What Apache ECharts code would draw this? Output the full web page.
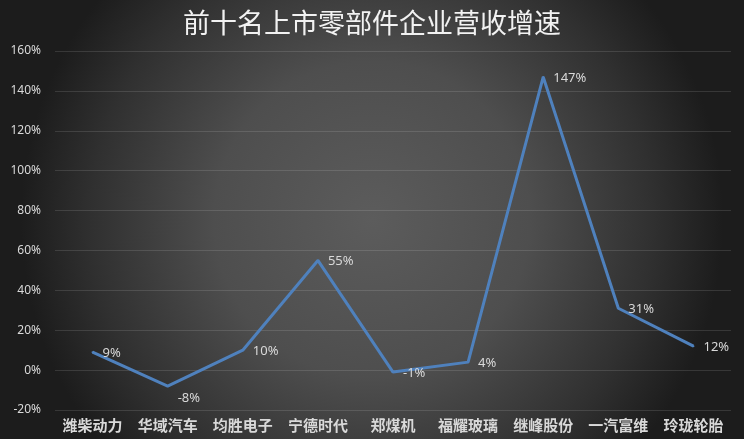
<!DOCTYPE html>
<html>
<head>
<meta charset="utf-8">
<script src="https://cdn.jsdelivr.net/npm/echarts@6/dist/echarts.min.js"></script>
<style>html,body{margin:0;padding:0;background:#222;}#c{width:744px;height:439px;}</style>
</head>
<body>
<div id="c"></div>
<script>
const titleText = '前十名上市零部件企业营收增速';
const categories = ['潍柴动力','华域汽车','均胜电子','宁德时代','郑煤机','福耀玻璃','继峰股份','一汽富维','玲珑轮胎'];
const growth = [9, -8, 10, 55, -1, 4, 147, 31, 12];
const yMin = -20, yMax = 160, yStep = 20;

const chart = echarts.init(document.getElementById('c'));
const seriesData = growth.map((v, i) => i === 1 ? {value: v, label: {offset: [0, 12]}} : v);
chart.setOption({
  backgroundColor: {
    type: 'radial', x: 0.5, y: 0.5, r: 0.8,
    colorStops: [
      {offset: 0, color: '#5c5c5c'},
      {offset: 0.45, color: '#4e4e4e'},
      {offset: 0.8, color: '#303030'},
      {offset: 1, color: '#1c1c1c'}
    ]
  },
  title: {
    text: titleText, left: 'center', top: 4,
    textStyle: {color: '#f2f2f2', fontSize: 27, fontWeight: 'normal', fontFamily: 'Noto Sans CJK SC'}
  },
  grid: {left: 55, right: 13, top: 51, bottom: 29},
  xAxis: {
    type: 'category', data: categories, boundaryGap: true,
    axisLine: {show: false}, axisTick: {show: false},
    axisLabel: {interval: 0, color: '#d9d9d9', fontSize: 15, fontWeight: 'bold', fontFamily: 'Noto Sans CJK SC', margin: 8}
  },
  yAxis: {
    type: 'value', min: yMin, max: yMax, interval: yStep,
    axisLine: {show: false}, axisTick: {show: false},
    axisLabel: {color: '#d9d9d9', fontSize: 12, fontFamily: 'Noto Sans', formatter: v => v + '%', margin: 14},
    splitLine: {lineStyle: {color: 'rgba(255,255,255,0.12)', width: 1}}
  },
  series: [{
    type: 'line', data: seriesData, symbol: 'circle', symbolSize: 2, showSymbol: true, showAllSymbol: true,
    itemStyle: {color: '#4f81bd'},
    lineStyle: {color: '#4f81bd', width: 3},
    label: {show: true, position: 'right', distance: 9, color: '#d9d9d9', fontSize: 13, fontFamily: 'Noto Sans', formatter: p => p.value + '%', offset: [0, 1]},
    animation: false
  }]
});
</script>
</body>
</html>
